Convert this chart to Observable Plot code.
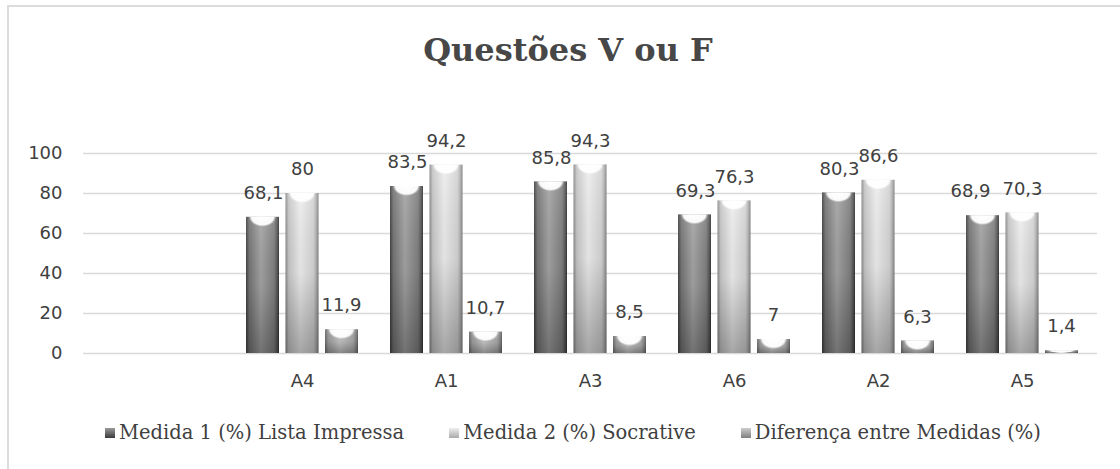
<!DOCTYPE html>
<html><head><meta charset="utf-8">
<script src="https://cdn.jsdelivr.net/npm/d3@7"></script>
<script src="https://cdn.jsdelivr.net/npm/@observablehq/plot@0.6"></script>
<style>
body{margin:0;background:#fff;width:1120px;height:469px;overflow:hidden;position:relative;font-family:"DejaVu Sans",sans-serif}
#frame{position:absolute;left:7px;top:5px;width:1200px;height:600px;border:2px solid #dcdcdc;box-sizing:border-box}
#title{position:absolute;left:0;top:30px;width:1136px;text-align:center;font:bold 32px "DejaVu Serif",serif;color:#474747;line-height:40px}
#chart{position:absolute;left:0;top:90px}
#legend{position:absolute;left:105px;top:421px;display:flex;gap:45px;font:19.5px "DejaVu Serif",serif;color:#404040;line-height:24px;white-space:nowrap}
.item{display:flex;align-items:center}
.sw{width:10px;height:10px;margin-right:4px;display:inline-block}
</style></head>
<body>
<div id="frame"></div>
<div id="title">Questões V ou F</div>
<div id="chart"></div>
<div id="legend"></div>
<script>
const categories = ["", "A4", "A1", "A3", "A6", "A2", "A5"];
const questions = ["A4", "A1", "A3", "A6", "A2", "A5"];
const seriesNames = ["Medida 1 (%) Lista Impressa", "Medida 2 (%) Socrative", "Diferença entre Medidas (%)"];
const medida1 = [68.1, 83.5, 85.8, 69.3, 80.3, 68.9];
const medida2 = [80, 94.2, 94.3, 76.3, 86.6, 70.3];
const diferenca = [11.9, 10.7, 8.5, 7, 6.3, 1.4];
const yTicks = [0, 20, 40, 60, 80, 100];

const rows = questions.map((q, i) => ({q, m1: medida1[i], m2: medida2[i], d: diferenca[i]}));
const fmt = v => String(v).replace(".", ",");
// labels of neighbouring bars at nearly the same height collide; nudge those apart
const crowded = r => Math.abs(r.m2 - r.m1) < 3;

const series = [
  {key: "m1", grad: "g1", il: 16, ir: 95, dx: -39},
  {key: "m2", grad: "g2", il: 55.5, ir: 55.5, dx: 0},
  {key: "d",  grad: "g3", il: 95, ir: 16, dx: 39}
];

const marks = [Plot.ruleY(yTicks, {stroke: "#d9d9d9", strokeWidth: 1.6})];
for (const s of series) {
  marks.push(Plot.barY(rows, {x: "q", y: s.key, fill: `url(#${s.grad})`, insetLeft: s.il, insetRight: s.ir}));
  marks.push(Plot.barY(rows, {x: "q", y: s.key, fill: "url(#shade)", insetLeft: s.il, insetRight: s.ir}));
  marks.push(Plot.barY(rows, {x: "q", y1: d => Math.max(0, d[s.key] - 5), y2: s.key, fill: "url(#cap)", insetLeft: s.il + 1.5, insetRight: s.ir + 1.5}));
  const plain = s.key === "m1" ? rows.filter(r => !crowded(r)) : rows;
  marks.push(Plot.text(plain, {x: "q", y: s.key, text: d => fmt(d[s.key]), dx: s.dx, dy: -24, fontSize: 18, fill: "#404040"}));
  if (s.key === "m1") {
    marks.push(Plot.text(rows.filter(crowded), {x: "q", y: s.key, text: d => fmt(d[s.key]), dx: s.dx - 13, dy: -24, fontSize: 18, fill: "#404040"}));
  }
}

const chart = Plot.plot({
  width: 1120, height: 300,
  marginLeft: 83, marginRight: 23, marginTop: 63, marginBottom: 37,
  style: {fontFamily: "DejaVu Sans", fontSize: "18px", color: "#404040", background: "transparent", overflow: "visible"},
  x: {domain: categories, padding: 0, label: null, tickSize: 0, tickPadding: 21},
  y: {domain: [0, 100], ticks: yTicks, label: null, tickSize: 0, tickPadding: 21},
  marks
});
document.getElementById("chart").appendChild(chart);

const svg = d3.select(chart);
const defs = svg.insert("defs", ":first-child");
function hgrad(id, stops) {
  const g = defs.append("linearGradient").attr("id", id).attr("x1", 0).attr("x2", 1).attr("y1", 0).attr("y2", 0);
  for (const [o, c] of stops) g.append("stop").attr("offset", o).attr("stop-color", c);
}
hgrad("g1", [[0, "#404040"], [0.1, "#747474"], [0.45, "#a4a4a4"], [0.85, "#808080"], [0.95, "#555555"], [1, "#333333"]]);
hgrad("g2", [[0, "#8a8a8a"], [0.1, "#c8c8c8"], [0.45, "#eeeeee"], [0.85, "#d4d4d4"], [0.95, "#a8a8a8"], [1, "#7a7a7a"]]);
hgrad("g3", [[0, "#6a6a6a"], [0.1, "#9a9a9a"], [0.45, "#c4c4c4"], [0.85, "#a6a6a6"], [0.95, "#808080"], [1, "#5e5e5e"]]);
const sh = defs.append("linearGradient").attr("id", "shade").attr("x1", 0).attr("x2", 0).attr("y1", 0).attr("y2", 1);
sh.append("stop").attr("offset", 0).attr("stop-color", "#fff").attr("stop-opacity", 0.1);
sh.append("stop").attr("offset", 0.5).attr("stop-color", "#000").attr("stop-opacity", 0.05);
sh.append("stop").attr("offset", 1).attr("stop-color", "#000").attr("stop-opacity", 0.3);
const cap = defs.append("radialGradient").attr("id", "cap").attr("cx", 0.5).attr("cy", 0).attr("r", 1)
  .attr("gradientTransform", "translate(0.5 0) scale(0.46 1) translate(-0.5 0)");
cap.append("stop").attr("offset", 0).attr("stop-color", "#fff").attr("stop-opacity", 1);
cap.append("stop").attr("offset", 0.8).attr("stop-color", "#fff").attr("stop-opacity", 0.95);
cap.append("stop").attr("offset", 0.92).attr("stop-color", "#fff").attr("stop-opacity", 0.3);
cap.append("stop").attr("offset", 1).attr("stop-color", "#fff").attr("stop-opacity", 0);

const swatch = ["linear-gradient(#9a9a9a,#3a3a3a)", "linear-gradient(#eee,#aaa)", "linear-gradient(#ccc,#808080)"];
const legend = d3.select("#legend");
seriesNames.forEach((n, i) => {
  const it = legend.append("div").attr("class", "item");
  it.append("span").attr("class", "sw").style("background", swatch[i]);
  it.append("span").text(n);
});
</script>
</body></html>
